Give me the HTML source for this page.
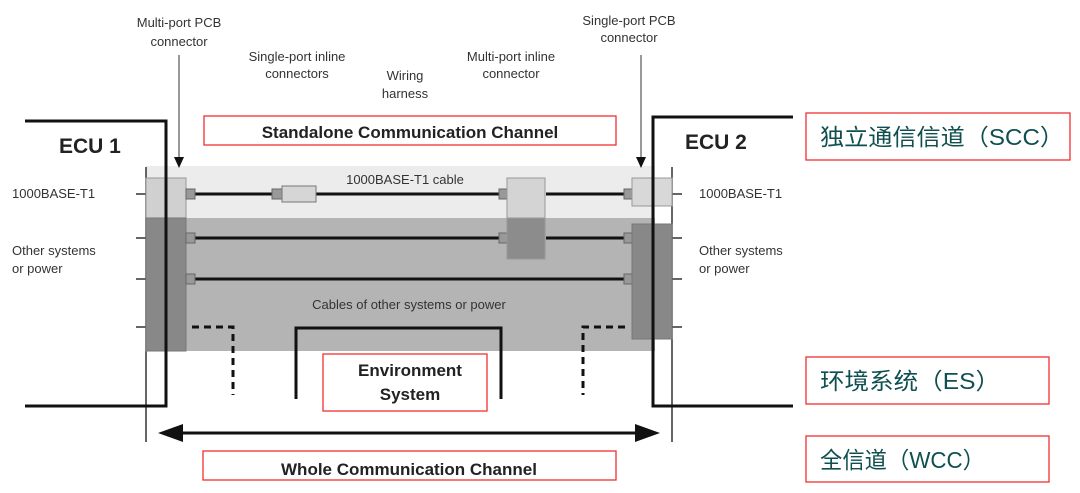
<!DOCTYPE html>
<html><head><meta charset="utf-8"><style>
html,body{margin:0;padding:0;background:#fff;width:1080px;height:493px;overflow:hidden}
svg{display:block}
text{font-family:"Liberation Sans","Noto Sans CJK SC",sans-serif}
</style></head><body>
<svg width="1080" height="493" viewBox="0 0 1080 493" xmlns="http://www.w3.org/2000/svg">
<rect x="146" y="166" width="509" height="52" fill="#ececec"/>
<rect x="146" y="218" width="509" height="133" fill="#b4b4b4"/>
<line x1="146" y1="167" x2="146" y2="442" stroke="#333" stroke-width="1.5"/>
<line x1="672" y1="167" x2="672" y2="442" stroke="#333" stroke-width="1.5"/>
<g stroke="#333" stroke-width="1.5">
<line x1="136" y1="194" x2="146" y2="194"/><line x1="136" y1="238" x2="146" y2="238"/>
<line x1="136" y1="279" x2="146" y2="279"/><line x1="136" y1="327" x2="146" y2="327"/>
<line x1="672" y1="194" x2="682" y2="194"/><line x1="672" y1="238" x2="682" y2="238"/>
<line x1="672" y1="279" x2="682" y2="279"/><line x1="672" y1="327" x2="682" y2="327"/>
</g>
<rect x="146" y="178" width="40" height="40" fill="#d0d0d0" stroke="#999" stroke-width="1"/>
<rect x="146" y="218" width="40" height="133" fill="#888" stroke="#777" stroke-width="1"/>
<g stroke="#111" stroke-width="3">
<line x1="195" y1="194" x2="272" y2="194"/><line x1="316" y1="194" x2="500" y2="194"/><line x1="546" y1="194" x2="625" y2="194"/>
<line x1="195" y1="238" x2="500" y2="238"/><line x1="546" y1="238" x2="625" y2="238"/>
<line x1="195" y1="279" x2="625" y2="279"/>
</g>
<g fill="#999" stroke="#666" stroke-width="1">
<rect x="186" y="189" width="9" height="10"/><rect x="186" y="233" width="9" height="10"/><rect x="186" y="274" width="9" height="10"/>
<rect x="272" y="189" width="10" height="10"/>
<rect x="499" y="189" width="9" height="10"/><rect x="499" y="233" width="9" height="10"/>
<rect x="624" y="189" width="9" height="10"/><rect x="624" y="233" width="9" height="10"/><rect x="624" y="274" width="9" height="10"/>
</g>
<rect x="282" y="186" width="34" height="16" fill="#d6d6d6" stroke="#777" stroke-width="1"/>
<rect x="507" y="178" width="38" height="40" fill="#d4d4d4" stroke="#999" stroke-width="1"/>
<rect x="507" y="218" width="38" height="41" fill="#8c8c8c" stroke="#999" stroke-width="1"/>
<rect x="632" y="178" width="40" height="28" fill="#d8d8d8" stroke="#999" stroke-width="1"/>
<rect x="632" y="224" width="40" height="115" fill="#888" stroke="#777" stroke-width="1"/>
<polyline points="25,121 166,121 166,406 25,406" fill="none" stroke="#111" stroke-width="3"/>
<polyline points="793,117 653,117 653,406 793,406" fill="none" stroke="#111" stroke-width="3"/>
<line x1="179" y1="55" x2="179" y2="158" stroke="#333" stroke-width="1"/>
<polygon points="174,157 184,157 179,168" fill="#111"/>
<line x1="641" y1="55" x2="641" y2="158" stroke="#333" stroke-width="1"/>
<polygon points="636,157 646,157 641,168" fill="#111"/>
<g fill="none" stroke="#111" stroke-width="3" stroke-dasharray="7,5">
<polyline points="192,327 233,327 233,395"/>
<polyline points="625,327 583,327 583,395"/>
</g>
<polyline points="296,399 296,328 501,328 501,399" fill="none" stroke="#111" stroke-width="3"/>
<line x1="170" y1="433" x2="640" y2="433" stroke="#111" stroke-width="3"/>
<polygon points="158,433 183,424 183,442" fill="#111"/>
<polygon points="660,433 635,424 635,442" fill="#111"/>
<g fill="none" stroke="#f03030" stroke-width="1.3">
<rect x="204" y="116" width="412" height="29"/>
<rect x="323" y="354" width="164" height="57"/>
<rect x="203" y="451" width="413" height="29"/>
<rect x="806" y="113" width="264" height="47"/>
<rect x="806" y="357" width="243" height="47"/>
<rect x="806" y="436" width="243" height="46"/>
</g>
<g fill="#333" font-size="13" text-anchor="middle">
<text x="179" y="27">Multi-port PCB</text><text x="179" y="46">connector</text>
<text x="297" y="61">Single-port inline</text><text x="297" y="78">connectors</text>
<text x="405" y="80">Wiring</text><text x="405" y="98">harness</text>
<text x="511" y="61">Multi-port inline</text><text x="511" y="78">connector</text>
<text x="629" y="25">Single-port PCB</text><text x="629" y="42">connector</text>
<text x="405" y="184">1000BASE-T1 cable</text>
<text x="409" y="309">Cables of other systems or power</text>
</g>
<g fill="#333" font-size="13">
<text x="12" y="198">1000BASE-T1</text>
<text x="12" y="255">Other systems</text><text x="12" y="273">or power</text>
<text x="699" y="198">1000BASE-T1</text>
<text x="699" y="255">Other systems</text><text x="699" y="273">or power</text>
</g>
<g fill="#222" font-weight="bold">
<text x="59" y="153" font-size="21">ECU 1</text>
<text x="685" y="149" font-size="21">ECU 2</text>
<text x="410" y="138" font-size="17" text-anchor="middle">Standalone Communication Channel</text>
<text x="409" y="475" font-size="17" text-anchor="middle">Whole Communication Channel</text>
<text x="410" y="376" font-size="17" text-anchor="middle">Environment</text>
<text x="410" y="400" font-size="17" text-anchor="middle">System</text>
</g>
<g fill="#0f4f4f" font-size="23">
<text x="820" y="145" textLength="244" lengthAdjust="spacingAndGlyphs">独立通信信道（SCC）</text>
<text x="820" y="389" textLength="180" lengthAdjust="spacingAndGlyphs">环境系统（ES）</text>
<text x="820" y="468" textLength="165" lengthAdjust="spacingAndGlyphs">全信道（WCC）</text>
</g>
</svg>
</body></html>
